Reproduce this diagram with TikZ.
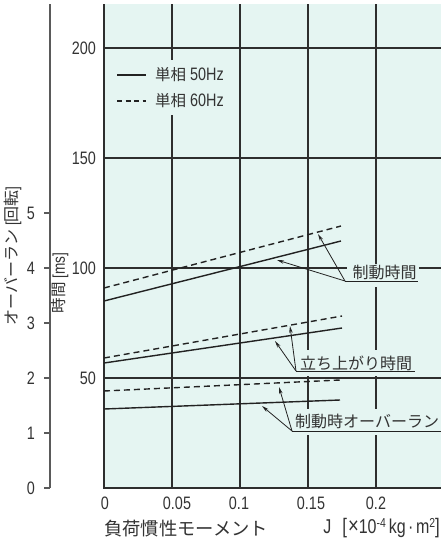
\documentclass[tikz,border=0pt]{standalone}
\usepackage{fontspec}
\setmainfont{Liberation Sans}[FakeStretch=0.8]
\newfontfamily\jp{Noto Sans CJK JP}
\newcommand\jpsm[1]{{\jp\fontsize{15.5}{18}\selectfont #1}}
\usetikzlibrary{arrows.meta}
\definecolor{bgc}{HTML}{E5F5F2}
\definecolor{gridc}{HTML}{2E2E2E}
\definecolor{txtc}{HTML}{333333}
\definecolor{axc}{HTML}{5A5A5A}
\definecolor{crv}{HTML}{222222}
\tikzset{
  gridline/.style={draw=gridc, line width=1.1pt},
  curve/.style={draw=crv, line width=1.4pt},
  dcurve/.style={curve, dash pattern=on 6pt off 4pt},
  lead/.style={draw=crv, line width=0.8pt, -{Stealth[length=7pt,width=3.5pt]}},
  uline/.style={draw=crv, line width=0.9pt},
  tick/.style={text=txtc, inner sep=0pt, font=\fontsize{18}{21}\selectfont},
  lbl/.style={text=txtc, inner sep=0pt, font=\fontsize{16}{19}\selectfont\jp},
}
\begin{document}
\begin{tikzpicture}[x=1pt,y=-1pt]
\useasboundingbox (0,0) rectangle (441,542);
% plot background
\fill[bgc] (104,4) rectangle (441,488);
% grid
\foreach \x in {172,240,308,376} \draw[gridline] (\x,4) -- (\x,488);
\foreach \y in {48,158,268,378} \draw[gridline] (104,\y) -- (441,\y);
\draw[gridline] (104,4) -- (104,488) -- (441,488);
% left revolution axis
\draw[axc, line width=1.1pt] (50,4) -- (50,488);
\foreach \y in {213,268,323,378,433,488} \draw[axc, line width=1.1pt] (44,\y) -- (50,\y);
% backgrounds of legend and labels
\fill[bgc] (110,60) rectangle (236,115);
\fill[bgc] (347,264) rectangle (419,287);
\fill[bgc] (296,350) rectangle (415,376);
\fill[bgc] (292,409) rectangle (441,435);
% curves
\coordinate (bsA) at (104,301); \coordinate (bsB) at (341,241);
\coordinate (bdA) at (104,288); \coordinate (bdB) at (341,226);
\coordinate (rsA) at (104,363); \coordinate (rsB) at (342,328);
\coordinate (rdA) at (104,358); \coordinate (rdB) at (342,316);
\coordinate (osA) at (104,409); \coordinate (osB) at (340,400);
\coordinate (odA) at (104,391); \coordinate (odB) at (340,380);
\draw[curve] (bsA) -- (bsB);
\draw[dcurve] (bdA) -- (bdB);
\draw[curve] (rsA) -- (rsB);
\draw[dcurve] (rdA) -- (rdB);
\draw[curve] (osA) -- (osB);
\draw[dcurve] (odA) -- (odB);
% legend
\coordinate (lsA) at (117,75); \coordinate (lsB) at (146,75);
\coordinate (ldA) at (117,101); \coordinate (ldB) at (146,101);
\draw[curve, line width=1.2pt] (lsA) -- (lsB);
\draw[curve, line width=1.2pt, dash pattern=on 5pt off 3.5pt] (ldA) -- (ldB);
\node[tick, anchor=west] (leg50) at (155,75) {\jpsm{単相} 50Hz};
\node[tick, anchor=west] (leg60) at (155,101) {\jpsm{単相} 60Hz};
% label: braking time
\coordinate (b0) at (345,281); \coordinate (b1) at (418,281);
\coordinate (bts) at (277,260); \coordinate (btd) at (318,234);
\draw[uline] (b0) -- (b1);
\draw[lead] (b0) -- (bts);
\draw[lead] (b0) -- (btd);
\node[lbl] (lbrake) at (384.5,272) {制動時間};
% label: rise time
\coordinate (r0) at (296,371); \coordinate (r1) at (415,371);
\coordinate (rts) at (275,341); \coordinate (rtd) at (290,326);
\draw[uline] (r0) -- (r1);
\draw[lead] (r0) -- (rts);
\draw[lead] (r0) -- (rtd);
\node[lbl] (lrise) at (356,363) {立ち上がり時間};
% label: overrun
\coordinate (o0) at (292,431); \coordinate (o1) at (441,431);
\coordinate (ots) at (262,406); \coordinate (otd) at (279,387);
\draw[uline] (o0) -- (o1);
\draw[lead] (o0) -- (ots);
\draw[lead] (o0) -- (otd);
\node[lbl, anchor=west] (lover) at (295,421) {制動時オーバーラン};
% ms tick labels
\node[tick, anchor=east] (m200) at (96,48) {200};
\node[tick, anchor=east] (m150) at (96,158) {150};
\node[tick, anchor=east] (m100) at (96,268) {100};
\node[tick, anchor=east] (m50) at (96,378) {50};
% revolution tick labels
\node[tick, anchor=east] (v5) at (35,213) {5};
\node[tick, anchor=east] (v4) at (35,268) {4};
\node[tick, anchor=east] (v3) at (35,323) {3};
\node[tick, anchor=east] (v2) at (35,378) {2};
\node[tick, anchor=east] (v1) at (35,433) {1};
\node[tick, anchor=east] (v0) at (35,488) {0};
% x tick labels
\node[tick] (x0) at (105,503) {0};
\node[tick] (x1) at (177,503) {0.05};
\node[tick] (x2) at (239,503) {0.1};
\node[tick] (x3) at (311,503) {0.15};
\node[tick] (x4) at (376,503) {0.2};
% axis titles
\node[tick, font=\fontsize{17}{20}\selectfont, rotate=90] (ylab1) at (13,256) {{\jp\fontsize{16}{19}\selectfont オーバーラン}\ [{\jp\fontsize{16}{19}\selectfont 回転}]};
\node[tick, font=\fontsize{17}{20}\selectfont, rotate=90] (ylab2) at (60,283) {{\jp\fontsize{15.5}{18}\selectfont 時間}\ [ms]};
\node[lbl, font=\fontsize{18.3}{21}\selectfont\jp, anchor=west] (xlab) at (104,529) {負荷慣性モーメント};
\node[tick, font=\fontsize{20}{22}\selectfont, anchor=east] (xunit) at (440,528) {J\hspace{11pt}{\fontsize{21}{21}\selectfont[}\hspace{1pt}{\fontsize{23}{23}\selectfont ×}10\raisebox{6pt}{\fontsize{13}{13}\selectfont -4}\hspace{3pt}kg\hspace{2.5pt}·\hspace{2.5pt}m\raisebox{6pt}{\fontsize{13}{13}\selectfont 2}{\fontsize{21}{21}\selectfont]}};
\end{tikzpicture}
\end{document}
